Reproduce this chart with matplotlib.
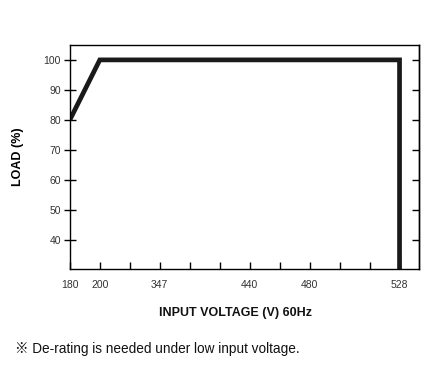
import matplotlib
matplotlib.use("Agg")
import matplotlib.pyplot as plt
import numpy as np

# derating curve
volts = [180, 200, 528, 528]
load = [80, 100, 100, 30]

# x axis is not linear: labelled voltages sit on these tick slots
tick_volts = [180, 200, 347, 440, 480, 528]
tick_slots = [0, 1, 3, 6, 8, 11]
minor_slots = [2, 4, 5, 7, 9, 10]
y_ticks = [40, 50, 60, 70, 80, 90, 100]

xp = [100] + tick_volts + [560]
fp = [-4] + tick_slots + [13]


def forward(v):
    return np.interp(v, xp, fp)


def inverse(s):
    return np.interp(s, fp, xp)


plt.rcParams["font.family"] = ["Liberation Sans", "DejaVu Sans"]

fig = plt.figure(figsize=(4.42, 3.71), dpi=100)
ax = fig.add_axes([0.158, 0.275, 0.79, 0.604])
ax.set_xscale("function", functions=(forward, inverse))

ax.plot(volts, load, color="#1a1a1a", lw=3.4,
        solid_joinstyle="miter", solid_capstyle="butt")

ax.set_xlim(180, inverse(11.65))
ax.set_ylim(30.3, 105)

ax.set_xticks(tick_volts)
ax.set_xticklabels([str(v) for v in tick_volts])
ax.set_xticks(inverse(np.array(minor_slots, dtype=float)), minor=True)
ax.set_yticks(y_ticks)

ax.tick_params(axis="x", which="both", direction="in", length=5, width=1,
               pad=8, labelsize=7.5, labelcolor="#333333")
ax.tick_params(axis="y", direction="inout", length=9, width=1,
               pad=2, labelsize=7.5, labelcolor="#333333")

# right side ticks point inward
ax2 = ax.secondary_yaxis("right")
ax2.set_yticks(y_ticks)
ax2.tick_params(direction="in", length=5, width=1, labelright=False)
ax2.spines["right"].set_linewidth(1)

for sp in ax.spines.values():
    sp.set_linewidth(1)
    sp.set_color("black")

ax.set_ylabel("LOAD (%)", fontsize=9, fontweight="bold", labelpad=14)

fig.text(0.532, 0.155, "INPUT VOLTAGE (V) 60Hz", fontsize=9,
         fontweight="bold", ha="center", va="center", color="#111111")
fig.text(0.035, 0.058, "※ De-rating is needed under low input voltage.",
         fontsize=9.8, ha="left", va="center", color="#111111",
         family=["Liberation Sans", "Noto Sans CJK JP"])

fig.savefig("out.png", dpi=100)
